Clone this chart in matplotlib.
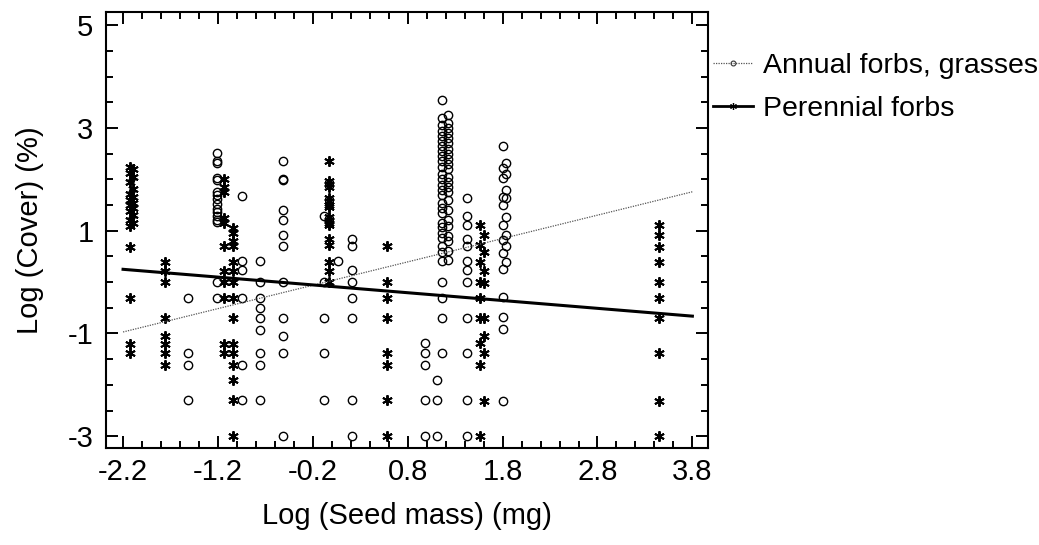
import numpy as np
import matplotlib
matplotlib.use("Agg")
import matplotlib.pyplot as plt
from matplotlib.ticker import MultipleLocator, FixedLocator

plt.rcParams["font.family"] = ["Liberation Sans", "DejaVu Sans"]

# ---- data (x = log seed mass, y = log cover) ----
# annual forbs, grasses: one list of y values per seed-mass column
annual_cols_x = [-1.52, -1.21, -0.95, -0.76, -0.51, -0.08, 0.06, 0.21,
                 0.98, 1.11, 1.16, 1.22, 1.42, 1.80, 1.84]
annual_cols_y = [
    [-0.3, -1.39, -1.61, -2.3],
    [2.51, 2.35, 2.31, 2.02, 1.98, 1.76, 1.7, 1.62, 1.52, 1.42, 1.36, 1.28, 1.2, 1.17, 0.0, -0.3],
    [1.68, 0.41, 0.24, -0.3, -1.61, -2.3],
    [0.41, 0.0, -0.3, -0.5, -0.69, -0.93, -1.39, -1.61, -2.3],
    [2.35, 2.0, 1.98, 1.4, 1.2, 0.92, 0.7, 0.0, -0.69, -1.05, -1.39, -3.0],
    [1.28, 0.0, -0.69, -1.39, -2.3],
    [0.41],
    [0.84, 0.7, 0.24, 0.0, -0.3, -0.69, -2.3, -3.0],
    [-1.19, -1.39, -1.61, -2.3, -3.0],
    [-1.9, -2.3, -3.0],
    [3.55, 3.2, 3.05, 2.95, 2.85, 2.75, 2.65, 2.55, 2.45, 2.35, 2.25, 2.1, 2.0, 1.9, 1.8,
     1.7, 1.55, 1.45, 1.35, 1.15, 1.07, 0.95, 0.85, 0.7, 0.58, 0.41, 0.0, -0.3, -0.69, -1.39],
    [3.25, 3.1, 3.0, 2.9, 2.8, 2.7, 2.6, 2.5, 2.4, 2.3, 2.2, 2.05, 1.95, 1.85, 1.75,
     1.6, 1.4, 1.2, 1.1, 0.9, 0.8, 0.6, 0.43],
    [1.63, 1.28, 1.11, 0.84, 0.7, 0.41, 0.24, 0.0, -0.69, -1.39, -2.3, -3.0],
    [2.65, 2.22, 2.02, 1.66, 1.5, 1.11, 0.82, 0.57, 0.25, -0.29, -0.68, -0.92, -2.31],
    [2.31, 2.1, 1.79, 1.63, 1.27, 0.92, 0.71, 0.4],
]

# perennial forbs
perennial_cols_x = [-2.13, -2.09, -1.76, -1.14, -1.04, -0.03, 0.58, 1.56, 1.60, 3.45]
perennial_cols_y = [
    [2.25, 2.12, 1.95, 1.72, 1.6, 1.5, 1.38, 1.2, 1.1, 0.69, -0.3, -1.2, -1.39],
    [2.2, 2.05, 1.82, 1.65, 1.55, 1.45, 1.3, 1.15],
    [0.4, 0.22, 0.0, -0.69, -1.05, -1.2, -1.39, -1.61],
    [2.0, 1.86, 1.76, 1.25, 1.15, 0.7, 0.22, 0.0, -0.3, -1.2, -1.39],
    [1.05, 0.95, 0.8, 0.7, 0.4, 0.22, 0.0, -0.3, -0.69, -1.2, -1.39, -1.61, -1.9, -2.3, -3.0],
    [2.35, 1.97, 1.92, 1.85, 1.64, 1.58, 1.5, 1.46, 1.27, 1.2, 1.15, 1.11, 0.84, 0.72, 0.4, 0.22, 0.0],
    [0.7, 0.0, -0.3, -0.69, -1.39, -1.61, -2.3, -3.0],
    [1.11, 0.72, 0.4, 0.0, -0.31, -0.69, -1.19, -1.62, -3.0],
    [0.92, 0.59, 0.22, -0.01, -0.69, -1.05, -1.39, -2.31],
    [1.11, 0.92, 0.69, 0.4, 0.0, -0.3, -0.69, -1.39, -2.31, -3.0],
]

# fitted lines (intercept, slope) read from the endpoints at x=-2.2 and x=3.8
annual_fit = (0.03, 0.455)
perennial_fit = (-0.085, -0.152)
fit_x = [-2.2, 3.8]

x_ticks = [-2.2, -1.2, -0.2, 0.8, 1.8, 2.8, 3.8]
y_ticks = [-3, -1, 1, 3, 5]


def flatten(cols_x, cols_y):
    xs, ys = [], []
    for cx, cy in zip(cols_x, cols_y):
        xs += [cx] * len(cy)
        ys += cy
    return np.array(xs), np.array(ys)


ax_x, ax_y = flatten(annual_cols_x, annual_cols_y)
pe_x, pe_y = flatten(perennial_cols_x, perennial_cols_y)

fig = plt.figure(figsize=(10.39, 5.45), dpi=100)
ax = fig.add_axes([0.102, 0.178, 0.579, 0.800])

ast = (6, 2, 0)
ax.plot(ax_x, ax_y, linestyle="none", marker="o", ms=6, mfc="none",
        mec="black", mew=1.0)
ax.plot(pe_x, pe_y, linestyle="none", marker=ast, ms=7.5, mec="black",
        mew=1.4)

fx = np.array(fit_x)
ax.plot(fx, annual_fit[0] + annual_fit[1] * fx, color="#555555",
        linestyle=(0, (1, 1)), linewidth=0.9)
ax.plot(fx, perennial_fit[0] + perennial_fit[1] * fx, color="black",
        linewidth=2.2)

ax.set_xlim(-2.38, 3.96)
ax.set_ylim(-3.23, 5.26)
ax.xaxis.set_major_locator(FixedLocator(x_ticks))
ax.xaxis.set_minor_locator(MultipleLocator(0.2))
ax.yaxis.set_major_locator(FixedLocator(y_ticks))
ax.yaxis.set_minor_locator(MultipleLocator(0.5))
ax.set_xticklabels([f"{t:g}" for t in x_ticks])
ax.set_yticklabels([f"{t:g}" for t in y_ticks])
ax.tick_params(which="both", direction="in", top=True, right=True,
               width=1.4, labelsize=21)
ax.tick_params(axis="x", which="major", pad=7)
ax.tick_params(axis="y", which="major", pad=9)
ax.tick_params(which="major", length=8.5)
ax.tick_params(which="minor", length=5)
for s in ax.spines.values():
    s.set_linewidth(1.5)

ax.set_xlabel("Log (Seed mass) (mg)", fontsize=21, labelpad=12)
ax.set_ylabel("Log (Cover) (%)", fontsize=21, labelpad=17)

# legend handles
h1, = ax.plot([], [], color="#555555", linestyle=(0, (1, 1)), linewidth=0.9,
              marker="o", ms=3.5, mfc="none", mec="#333333", mew=0.8)
h2, = ax.plot([], [], color="black", linewidth=2.0, marker=ast, ms=5,
              mec="black", mew=0.9)
fig.legend([h1, h2], ["Annual forbs, grasses", "Perennial forbs"],
           loc="upper left", bbox_to_anchor=(0.662, 0.95), frameon=False,
           fontsize=20.5, handlelength=1.4, handletextpad=0.35,
           labelspacing=0.6)

fig.savefig("out.png", dpi=100)
